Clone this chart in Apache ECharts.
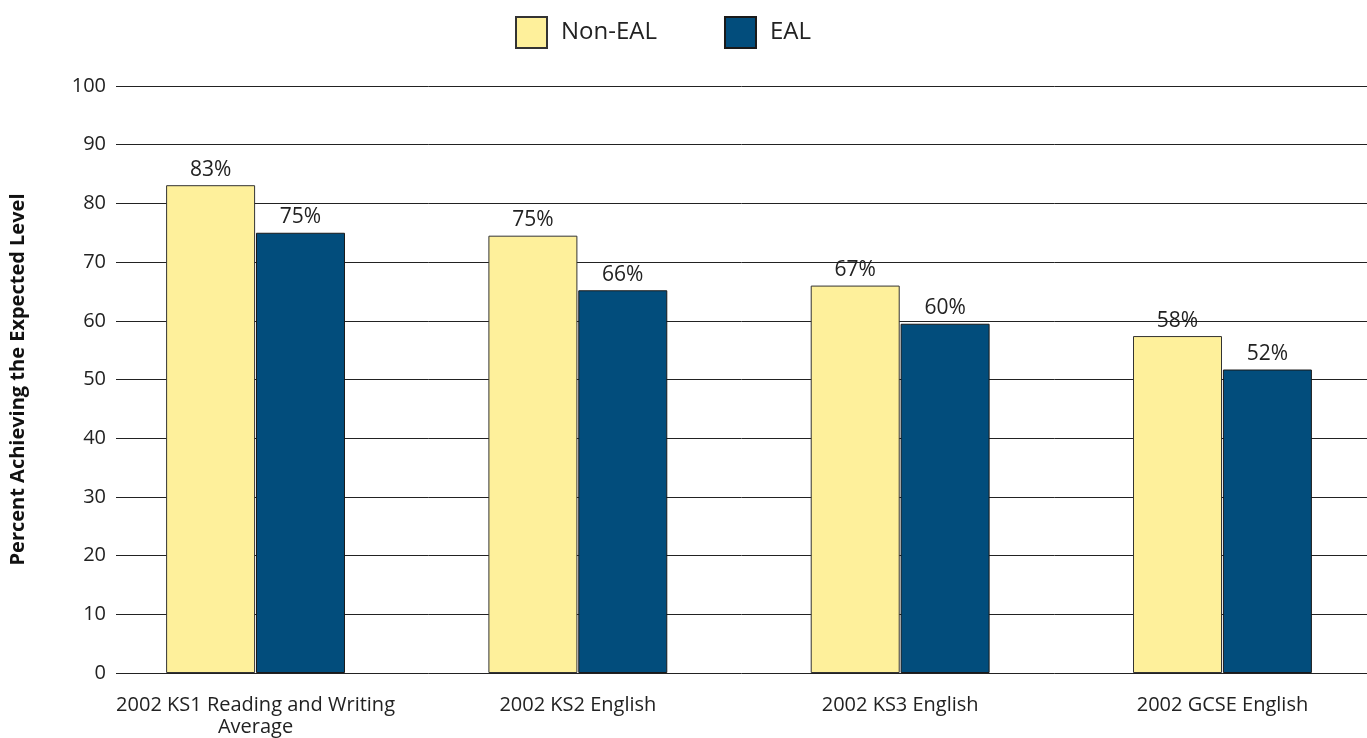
<!DOCTYPE html>
<html>
<head>
<meta charset="utf-8">
<script src="https://cdn.jsdelivr.net/npm/echarts@6/dist/echarts.min.js"></script>
<style>
html,body{margin:0;padding:0;background:#fff;overflow:hidden;width:1367px;height:738px;}
#chart{width:1400px;height:738px;}
</style>
</head>
<body>
<div id="chart"></div>
<script>
const categories = ['2002 KS1 Reading and Writing\nAverage', '2002 KS2 English', '2002 KS3 English', '2002 GCSE English'];
const seriesNames = ['Non-EAL', 'EAL'];
const nonEal = [83.1, 74.5, 66.0, 57.4];
const eal = [75.0, 65.2, 59.5, 51.7];
const nonEalLabels = ['83%', '75%', '67%', '58%'];
const ealLabels = ['75%', '66%', '60%', '52%'];
const yTicks = {min: 0, max: 100, interval: 10};

const FONT = '"Open Sans", "Noto Sans", sans-serif';
const chart = echarts.init(document.getElementById('chart'));

function labelFor(arr) {
  return {
    show: true, position: 'top', distance: 5,
    fontFamily: FONT, fontSize: 21, color: '#222',
    formatter: p => arr[p.dataIndex]
  };
}

chart.setOption({
  animation: false,
  textStyle: {fontFamily: FONT},
  legend: {
    top: 11, left: 510,
    itemWidth: 31, itemHeight: 31, itemGap: 67,
    icon: 'rect',
    textStyle: {fontFamily: FONT, fontSize: 24, color: '#222', padding: [0, 0, 0, 9]},
    data: seriesNames
  },
  grid: [
    {left: 116, right: 33, top: 86, bottom: 65},
    {left: 94.4, width: 1289.2, top: 86, bottom: 65}
  ],
  xAxis: [
    {gridIndex: 0, type: 'value', min: 0, max: 1, show: false},
    {
      gridIndex: 1, type: 'category', data: categories,
      axisLine: {show: false}, axisTick: {show: false},
      axisLabel: {fontFamily: FONT, fontSize: 20, color: '#222', margin: 21, lineHeight: 22, interval: 0}
    }
  ],
  yAxis: [
    {
      gridIndex: 0, type: 'value', min: yTicks.min, max: yTicks.max, interval: yTicks.interval,
      name: 'Percent Achieving the Expected Level', nameLocation: 'middle', nameGap: 88,
      nameTextStyle: {fontFamily: FONT, fontSize: 20, fontWeight: 'bold', color: '#111'},
      axisLine: {show: false}, axisTick: {show: false},
      axisLabel: {fontFamily: FONT, fontSize: 20, color: '#222', margin: 10},
      splitLine: {show: true, lineStyle: {color: '#222', width: 1}}
    },
    {gridIndex: 1, type: 'value', min: yTicks.min, max: yTicks.max, interval: yTicks.interval, show: false}
  ],
  series: [
    {
      name: seriesNames[0], type: 'bar', xAxisIndex: 1, yAxisIndex: 1,
      data: nonEal, barWidth: 89, barGap: '1%',
      itemStyle: {color: '#FEF09B', borderColor: '#333', borderWidth: 1},
      label: labelFor(nonEalLabels)
    },
    {
      name: seriesNames[1], type: 'bar', xAxisIndex: 1, yAxisIndex: 1,
      data: eal, barWidth: 89, barGap: '1%',
      itemStyle: {color: '#024D7C', borderColor: '#1a1a1a', borderWidth: 1},
      label: labelFor(ealLabels)
    }
  ]
});
</script>
</body>
</html>
